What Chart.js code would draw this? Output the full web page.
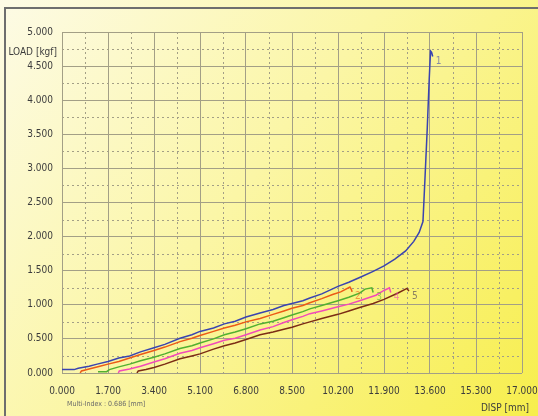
<!DOCTYPE html>
<html>
<head>
<meta charset="utf-8">
<script src="https://cdn.jsdelivr.net/npm/chart.js@4.4.0/dist/chart.umd.min.js"></script>
<style>
  html, body { margin: 0; padding: 0; background: #fff; }
  #wrap { width: 538px; height: 416px; }
</style>
</head>
<body>
<div id="wrap"><canvas id="graph" width="538" height="416"></canvas></div>
<script>
// load-displacement curves, one pair of arrays per specimen
const dispBlue   = [0, 0.45, 0.6, 1.0, 1.3, 1.7, 2.1, 2.5, 2.9, 3.4, 3.8, 4.36, 4.8, 5.1, 5.6, 6.0, 6.4, 6.8, 7.32, 7.8, 8.2, 8.5, 8.9, 9.16, 9.6, 10.2, 10.6, 11.0, 11.5, 11.9, 12.3, 12.7, 13.0, 13.2, 13.34, 13.42, 13.5, 13.57, 13.62, 13.66, 13.7];
const loadBlue   = [0.05, 0.05, 0.07, 0.10, 0.13, 0.17, 0.22, 0.25, 0.31, 0.37, 0.42, 0.51, 0.56, 0.61, 0.66, 0.72, 0.76, 0.82, 0.88, 0.93, 0.99, 1.02, 1.06, 1.10, 1.16, 1.27, 1.33, 1.40, 1.49, 1.57, 1.67, 1.79, 1.93, 2.06, 2.22, 2.90, 3.60, 4.30, 4.72, 4.70, 4.64];
const dispOrange = [0.67, 0.72, 1.0, 1.4, 1.7, 2.1, 2.5, 2.9, 3.4, 3.8, 4.36, 4.8, 5.1, 5.6, 6.0, 6.4, 6.8, 7.32, 7.8, 8.2, 8.5, 8.9, 9.16, 9.6, 10.0, 10.3, 10.64, 10.7, 10.72];
const loadOrange = [0, 0.03, 0.06, 0.10, 0.13, 0.17, 0.22, 0.27, 0.33, 0.38, 0.46, 0.51, 0.55, 0.61, 0.66, 0.70, 0.75, 0.80, 0.86, 0.91, 0.95, 0.99, 1.03, 1.09, 1.15, 1.19, 1.26, 1.22, 1.19];
const dispGreen  = [1.33, 1.65, 1.75, 2.1, 2.5, 2.9, 3.4, 3.8, 4.36, 4.8, 5.1, 5.6, 6.0, 6.4, 6.8, 7.32, 7.8, 8.2, 8.5, 8.9, 9.16, 9.6, 10.2, 10.6, 11.0, 11.2, 11.45, 11.5];
const loadGreen  = [0.02, 0.02, 0.05, 0.09, 0.13, 0.18, 0.23, 0.28, 0.36, 0.40, 0.44, 0.50, 0.56, 0.60, 0.65, 0.72, 0.76, 0.81, 0.85, 0.90, 0.94, 0.99, 1.06, 1.11, 1.17, 1.23, 1.25, 1.18];
const dispPink   = [2.08, 2.12, 2.5, 2.9, 3.4, 3.8, 4.36, 4.8, 5.1, 5.6, 6.0, 6.4, 6.8, 7.32, 7.8, 8.2, 8.5, 8.9, 9.16, 9.6, 10.2, 10.6, 11.0, 11.6, 11.9, 12.1, 12.15];
const loadPink   = [0, 0.03, 0.06, 0.10, 0.16, 0.21, 0.29, 0.33, 0.37, 0.43, 0.48, 0.51, 0.56, 0.63, 0.68, 0.74, 0.78, 0.83, 0.87, 0.91, 0.97, 1.01, 1.06, 1.14, 1.21, 1.25, 1.18];
const dispBrown  = [2.77, 2.82, 3.1, 3.4, 3.8, 4.36, 4.8, 5.1, 5.6, 6.0, 6.4, 6.8, 7.32, 7.8, 8.2, 8.5, 8.9, 9.16, 9.6, 10.2, 10.6, 11.0, 11.5, 11.9, 12.4, 12.75, 12.82];
const loadBrown  = [0, 0.03, 0.05, 0.08, 0.13, 0.21, 0.25, 0.28, 0.35, 0.40, 0.44, 0.49, 0.56, 0.60, 0.64, 0.67, 0.72, 0.75, 0.80, 0.86, 0.91, 0.96, 1.02, 1.08, 1.17, 1.24, 1.20];

const curveNames = ['1', '2', '3', '4', '5'];
const xTicks = [0, 1.7, 3.4, 5.1, 6.8, 8.5, 10.2, 11.9, 13.6, 15.3, 17.0];
const yTicks = [0, 0.5, 1.0, 1.5, 2.0, 2.5, 3.0, 3.5, 4.0, 4.5, 5.0];

function toPoints(xs, ys) {
    return xs.map((x, i) => ({ x: x, y: ys[i] }));
}

const FONT = "'DejaVu Sans Condensed', 'Liberation Sans Narrow', 'Liberation Sans', Arial, sans-serif";

// background, frame, dashed minor grid and the small texts
const paperPlugin = {
    id: 'paper',
    beforeDraw(chart) {
        const c = chart.ctx;
        const w = chart.width, h = chart.height;
        const g = c.createLinearGradient(0, 0, w, h);
        g.addColorStop(0, '#fdfbe6');
        g.addColorStop(0.45, '#fbf6a6');
        g.addColorStop(1, '#f7ee4c');
        c.save();
        c.fillStyle = g;
        c.fillRect(0, 0, w, h);
        c.fillStyle = '#6e6e6e';
        c.fillRect(4, 7, w - 4, 2);
        c.fillRect(4, 7, 2, h - 7);
        c.restore();
    },
    beforeDatasetsDraw(chart) {
        const c = chart.ctx;
        const a = chart.chartArea;
        const xs = chart.scales.x, ys = chart.scales.y;
        c.save();
        c.strokeStyle = '#a39f86';
        c.lineWidth = 1;
        c.setLineDash([2, 3]);
        for (let i = 0; i < xTicks.length - 1; i++) {
            const px = Math.round(xs.getPixelForValue((xTicks[i] + xTicks[i + 1]) / 2)) + 0.5;
            c.beginPath(); c.moveTo(px, a.top); c.lineTo(px, a.bottom); c.stroke();
        }
        for (let i = 0; i < yTicks.length - 1; i++) {
            const py = Math.round(ys.getPixelForValue((yTicks[i] + yTicks[i + 1]) / 2)) + 0.5;
            c.beginPath(); c.moveTo(a.left, py); c.lineTo(a.right, py); c.stroke();
        }
        c.restore();
    },
    afterDraw(chart) {
        const c = chart.ctx;
        c.save();
        c.fillStyle = '#3c3c3c';
        c.font = '10px ' + FONT;
        c.textAlign = 'right';
        c.textBaseline = 'middle';
        c.fillText('LOAD [kgf]', 57, 52);
        c.fillText('DISP [mm]', 529, 408);
        c.fillStyle = '#6a6a6a';
        c.font = '7px ' + FONT;
        c.textAlign = 'left';
        c.fillText('Multi-Index : 0.686 [mm]', 67, 404);
        // curve numbers at the end of each curve
        c.font = '10px ' + FONT;
        chart.data.datasets.forEach((ds, i) => {
            const meta = chart.getDatasetMeta(i);
            const last = meta.data[meta.data.length - 1];
            c.fillStyle = i === 4 ? '#8a8060' : ds.borderColor;
            c.globalAlpha = i === 4 ? 1 : 0.6;
            c.fillText(curveNames[i], last.x + 3, last.y + 5);
        });
        c.restore();
    }
};

const ctx = document.getElementById('graph').getContext('2d');
window.chartLoad = new Chart(ctx, {
    type: 'scatter',
    data: {
        datasets: [
            { data: toPoints(dispBlue, loadBlue), borderColor: '#3a44b0' },
            { data: toPoints(dispOrange, loadOrange), borderColor: '#ec5a16' },
            { data: toPoints(dispGreen, loadGreen), borderColor: '#52b030' },
            { data: toPoints(dispPink, loadPink), borderColor: '#f24ab8' },
            { data: toPoints(dispBrown, loadBrown), borderColor: '#7c2c14' },
        ].map(d => Object.assign(d, { showLine: true, borderWidth: 1.5, pointRadius: 0, tension: 0, fill: false })),
    },
    options: {
        responsive: false,
        animation: false,
        layout: { padding: { top: 32, right: 16, left: 0, bottom: 0 } },
        plugins: { legend: { display: false }, tooltip: { enabled: false } },
        scales: {
            x: {
                type: 'linear',
                min: 0,
                max: 17,
                afterBuildTicks: (s) => { s.ticks = xTicks.map(v => ({ value: v })); },
                afterFit: (s) => { s.height = 43; s.paddingLeft = 0; s.paddingRight = 0; },
                grid: { color: '#a39f86', lineWidth: 1, drawTicks: false },
                border: { display: false },
                ticks: {
                    padding: 12,
                    color: '#3c3c3c',
                    font: { family: FONT, size: 10 },
                    maxRotation: 0,
                    autoSkip: false,
                    callback: (v) => Number(v).toFixed(3),
                },
            },
            y: {
                min: 0,
                max: 5,
                afterBuildTicks: (s) => { s.ticks = yTicks.map(v => ({ value: v })); },
                afterFit: (s) => { s.width = 62; s.paddingTop = 0; s.paddingBottom = 0; },
                grid: { color: '#a39f86', lineWidth: 1, drawTicks: false },
                border: { display: false },
                ticks: {
                    padding: 9,
                    color: '#3c3c3c',
                    font: { family: FONT, size: 10 },
                    autoSkip: false,
                    callback: (v) => Number(v).toFixed(3),
                },
            },
        },
    },
    plugins: [paperPlugin],
});
</script>
</body>
</html>
